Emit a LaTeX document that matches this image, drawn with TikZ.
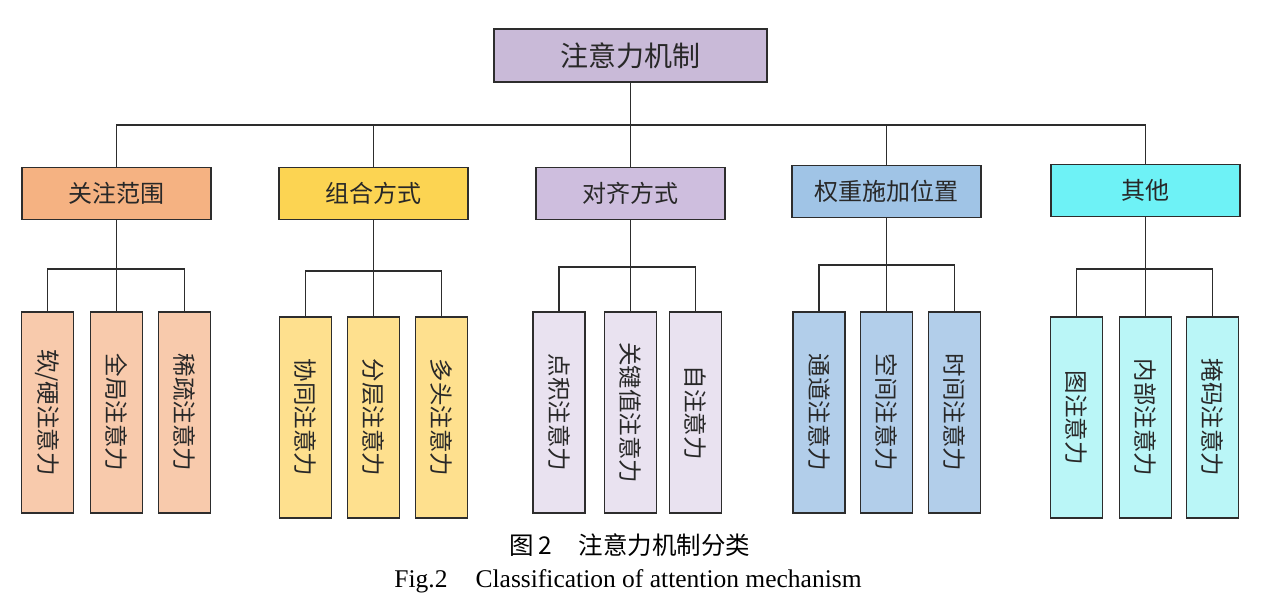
\documentclass[tikz,border=0pt]{standalone}
\usepackage{fontspec}
\setmainfont{Liberation Serif}
\newfontfamily\cjk{Noto Sans CJK SC}
\usepackage{tikz}
\usetikzlibrary{positioning}
\definecolor{linec}{RGB}{45,45,45}
\definecolor{textc}{RGB}{40,40,40}
\definecolor{rootc}{RGB}{201,186,216}
\definecolor{scopec}{RGB}{245,178,130}
\definecolor{scopel}{RGB}{248,202,172}
\definecolor{combc}{RGB}{252,212,82}
\definecolor{combl}{RGB}{254,224,142}
\definecolor{alignc}{RGB}{206,190,222}
\definecolor{alignl}{RGB}{233,226,240}
\definecolor{weightc}{RGB}{160,196,230}
\definecolor{weightl}{RGB}{178,206,234}
\definecolor{otherc}{RGB}{110,242,246}
\definecolor{otherl}{RGB}{186,246,247}
\tikzset{
  rootbox/.style = {draw=linec, line width=1.6pt, fill=rootc, text=textc,
                    minimum width=273pt, minimum height=53pt, inner sep=0pt,
                    font=\cjk\fontsize{28}{28}\selectfont},
  catbox/.style  = {draw=linec, line width=1.6pt, text=textc,
                    minimum width=189pt, minimum height=52pt, inner sep=0pt,
                    font=\cjk\fontsize{24}{24}\selectfont},
  leafbox/.style = {draw=linec, line width=1.6pt, text=textc, rotate=-90,
                    minimum width=201pt, minimum height=52pt, inner sep=0pt,
                    font=\cjk\fontsize{23.5}{23.5}\selectfont},
  link/.style    = {line width=1.5pt, draw=linec},
  captext/.style = {text=black, inner sep=0pt},
}
\begin{document}
\begin{tikzpicture}[x=1pt, y=-1pt]
\useasboundingbox (0,0) rectangle (1278,602);

% ---- root ----
\node[rootbox] (root) at (630.5,55.5) {注意力机制};
\coordinate (top) at (630.5,125);

% ---- categories ----
\node[catbox, fill=scopec]  (cat1) at (116.5,193.5) {关注范围};
\node[catbox, fill=combc]   (cat2) at (373.5,193.5) {组合方式};
\node[catbox, fill=alignc]  (cat3) at (630.5,193.5) {对齐方式};
\node[catbox, fill=weightc] (cat4) at (886.5,191.5) {权重施加位置};
\node[catbox, fill=otherc]  (cat5) at (1145.5,190.5) {其他};
\draw[link] (root.south) -- (cat3.north);
\draw[link] (cat1.north) |- (top) -| (cat5.north);
\draw[link] (cat2.north) -- (cat2.north |- top);
\draw[link] (cat4.north) -- (cat4.north |- top);

% ---- leaves: attention scope ----
\node[leafbox, fill=scopel] (l11) at (47.5,412.5)  {软/硬注意力};
\node[leafbox, fill=scopel] (l12) at (116.5,412.5) {全局注意力};
\node[leafbox, fill=scopel] (l13) at (184.5,412.5) {稀疏注意力};
\coordinate (b1) at (116.5,269);
\draw[link] (cat1.south) -- (l12.west);
\draw[link] (l11.west) |- (b1) -| (l13.west);

% ---- leaves: combination ----
\node[leafbox, fill=combl] (l21) at (305.5,417.5) {协同注意力};
\node[leafbox, fill=combl] (l22) at (373.5,417.5) {分层注意力};
\node[leafbox, fill=combl] (l23) at (441.5,417.5) {多头注意力};
\coordinate (b2) at (373.5,271);
\draw[link] (cat2.south) -- (l22.west);
\draw[link] (l21.west) |- (b2) -| (l23.west);

% ---- leaves: alignment ----
\node[leafbox, fill=alignl] (l31) at (559,412.5)   {点积注意力};
\node[leafbox, fill=alignl] (l32) at (630.5,412.5) {关键值注意力};
\node[leafbox, fill=alignl] (l33) at (695.5,412.5) {自注意力};
\coordinate (b3) at (630.5,267);
\draw[link] (cat3.south) -- (l32.west);
\draw[link] (l31.west) |- (b3) -| (l33.west);

% ---- leaves: weight position ----
\node[leafbox, fill=weightl] (l41) at (819,412.5)   {通道注意力};
\node[leafbox, fill=weightl] (l42) at (886.5,412.5) {空间注意力};
\node[leafbox, fill=weightl] (l43) at (954.5,412.5) {时间注意力};
\coordinate (b4) at (886.5,265);
\draw[link] (cat4.south) -- (l42.west);
\draw[link] (l41.west) |- (b4) -| (l43.west);

% ---- leaves: others ----
\node[leafbox, fill=otherl] (l51) at (1076.5,417.5) {图注意力};
\node[leafbox, fill=otherl] (l52) at (1145.5,417.5) {内部注意力};
\node[leafbox, fill=otherl] (l53) at (1212.5,417.5) {掩码注意力};
\coordinate (b5) at (1145.5,269);
\draw[link] (cat5.south) -- (l52.west);
\draw[link] (l51.west) |- (b5) -| (l53.west);

% ---- caption ----
\node[captext, font=\cjk\fontsize{24.5}{24.5}\selectfont] (capzh) at (630,545)
  {图\,2\hspace{1.1em}注意力机制分类};
\node[captext, font=\fontsize{25.5}{25.5}\selectfont] (capen) at (628,581)
  {Fig.2\hspace{1.1em}Classification of attention mechanism};

\end{tikzpicture}
\end{document}
